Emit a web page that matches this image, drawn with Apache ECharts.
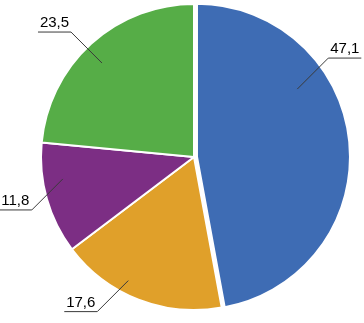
<!DOCTYPE html>
<html>
<head>
<meta charset="utf-8">
<script src="https://cdn.jsdelivr.net/npm/echarts@6/dist/echarts.min.js"></script>
<style>
html,body{margin:0;padding:0;background:#fff;}
#chart{width:364px;height:323px;}
</style>
</head>
<body>
<div id="chart"></div>
<script>
// Data
const categories = ['A', 'B', 'C', 'D'];
const values = [47.1, 17.6, 11.8, 23.5];
const colors = ['#3e6cb4', '#e0a02a', '#7c2e84', '#56ad47'];

// Layout
const CX = 194, CY = 157, R = 153, OFF = 3;
const anchorAngle = [56, 208, 260.5, 315.6];   // degrees clockwise from top
const anchorRadius = [121, 140, 133, 131.5];
const DIAG = 31, HOR = 33;

const total = values.reduce((a, b) => a + b, 0);

function layout(params) {
  const i = params.dataIndex;
  let cx = CX, cy = CY;
  if (i === 0) {
    const mid = (values[0] / total / 2) * 2 * Math.PI;
    cx += OFF * Math.sin(mid);
    cy -= OFF * Math.cos(mid);
  }
  const a = anchorAngle[i] * Math.PI / 180;
  const sx = cx + anchorRadius[i] * Math.sin(a);
  const sy = cy - anchorRadius[i] * Math.cos(a);
  const dx = Math.sin(a) >= 0 ? 1 : -1;
  const dy = Math.cos(a) >= 0 ? -1 : 1;
  const ex = sx + dx * DIAG, ey = sy + dy * DIAG;
  const hx = ex + dx * HOR;
  return {
    x: (ex + hx) / 2,
    y: ey - 1.5,
    align: 'center',
    verticalAlign: 'bottom',
    labelLinePoints: [[sx, sy], [ex, ey], [hx, ey]]
  };
}

const chart = echarts.init(document.getElementById('chart'), null, {renderer: 'canvas'});
chart.setOption({
  animation: false,
  series: [{
    type: 'pie',
    z: 2,
    center: [CX, CY],
    radius: R,
    startAngle: 90,
    clockwise: true,
    selectedMode: 'single',
    selectedOffset: OFF,
    silent: true,
    itemStyle: {borderColor: '#fff', borderWidth: 2},
    label: {show: false},
    labelLine: {show: false},
    emphasis: {disabled: true},
    data: categories.map((c, i) => ({
      name: c,
      value: values[i],
      selected: i === 0,
      itemStyle: {color: colors[i]}
    }))
  }, {
    type: 'pie',
    z: 10,
    center: [CX, CY],
    radius: R,
    startAngle: 90,
    clockwise: true,
    avoidLabelOverlap: false,
    silent: true,
    itemStyle: {color: 'rgba(0,0,0,0)', borderWidth: 0},
    label: {
      show: true,
      position: 'outside',
      color: '#000',
      fontFamily: '"Liberation Sans", Arial, sans-serif',
      fontSize: 15,
      lineHeight: 15,
      formatter: p => String(p.value).replace('.', ',')
    },
    labelLine: {show: true, lineStyle: {color: '#3a3a3a', width: 1}},
    labelLayout: layout,
    emphasis: {disabled: true},
    data: categories.map((c, i) => ({name: c, value: values[i]}))
  }]
});
</script>
</body>
</html>
